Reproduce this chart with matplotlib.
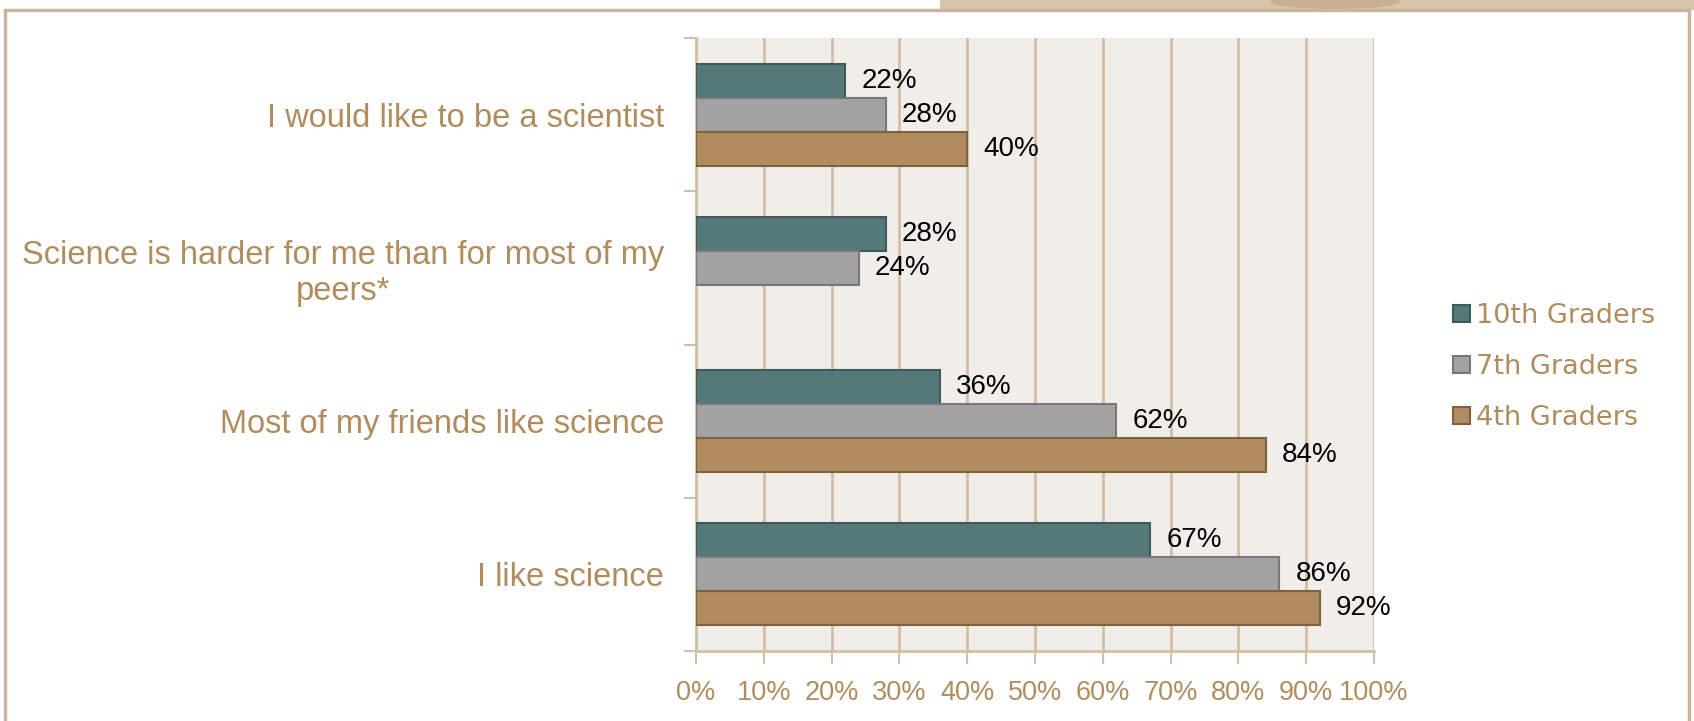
import numpy as np
import matplotlib.pyplot as plt
from matplotlib.patches import Rectangle, Polygon, Ellipse

categories = ['I would like to be a scientist',
              'Science is harder for me than for most of my\npeers*',
              'Most of my friends like science',
              'I like science']
series = ['10th Graders', '7th Graders', '4th Graders']
tenth = [22, 28, 36, 67]
seventh = [28, 24, 62, 86]
fourth = [40, None, 84, 92]
values = [tenth, seventh, fourth]

face = ['#557878', '#a2a2a2', '#b08c5e']
edge = ['#3e5b5b', '#787878', '#7d6240']
tan = '#b08c5e'
grid_c = '#d3bea6'
narrow = ['Liberation Sans', 'DejaVu Sans']

fig = plt.figure(figsize=(16.94, 7.21), dpi=100)
fig.patch.set_facecolor('white')

# slide frame
fig.patches.append(Polygon([[940 / 1694, 1], [1, 1], [1, 1 - 10 / 721], [940 / 1694, 1 - 10 / 721]],
                           closed=True, transform=fig.transFigure, facecolor='#d8c6ab', edgecolor='none',
                           zorder=-3))
fig.patches.append(Ellipse((1335 / 1694, 1 - 2 / 721), 130 / 1694, 14 / 721, transform=fig.transFigure,
                           facecolor='#c9b092', edgecolor='none', zorder=-2))
fig.patches.append(Rectangle((5 / 1694, -0.1), 1684 / 1694, 1.1 - 10 / 721, transform=fig.transFigure,
                             facecolor='white', edgecolor='#c9b59c', linewidth=2.5, zorder=-1))

ax = fig.add_axes([696 / 1694, 70 / 721, 678 / 1694, 613 / 721])
ax.set_facecolor('#f1ede8')

n = len(categories)
h = 0.222
for i, (vals, fc, ec) in enumerate(zip(values, face, edge)):
    for j, v in enumerate(vals):
        if v is None:
            continue
        y = j + (i - 1) * h
        ax.barh(y, v, height=h, color=fc, edgecolor=ec, linewidth=1.5, zorder=3)
        ax.text(v + 2.4, y, f'{v}%', va='center', ha='left', fontsize=20,
                family=narrow, color='black', zorder=4)
    ax.barh(np.nan, 0, color=fc, edgecolor=ec, linewidth=1.5, label=series[i])

ax.set_xlim(0, 100)
ax.set_ylim(n - 0.5, -0.5)
ax.set_xticks(np.arange(0, 101, 10))
ax.set_xticklabels([f'{t}%' for t in range(0, 101, 10)], fontsize=19.5, family=narrow, color=tan)
ax.set_yticks(np.arange(n))
ax.set_yticklabels(categories, fontsize=23.5, family=narrow, color=tan, multialignment='center')
ax.set_yticks(np.arange(n + 1) - 0.5, minor=True)
ax.tick_params(axis='y', which='major', length=0, pad=23)
ax.tick_params(axis='y', which='minor', length=9, width=1.5, color=grid_c)
ax.tick_params(axis='x', length=9, width=1.5, color=grid_c, pad=12)
ax.grid(axis='x', color=grid_c, linewidth=2, zorder=0)
for s in ['top', 'right']:
    ax.spines[s].set_visible(False)
for s in ['left', 'bottom']:
    ax.spines[s].set_color(grid_c)
    ax.spines[s].set_linewidth(2)

handles, labels = ax.get_legend_handles_labels()
fig.legend(handles, labels, loc='center left', bbox_to_anchor=(1429 / 1694, 1 - 367 / 721),
           frameon=False, fontsize=19.5, labelcolor=tan, handlelength=0.6, handleheight=0.6,
           handletextpad=0.25, labelspacing=0.92)

fig.savefig('out.png', dpi=100, facecolor='white')
